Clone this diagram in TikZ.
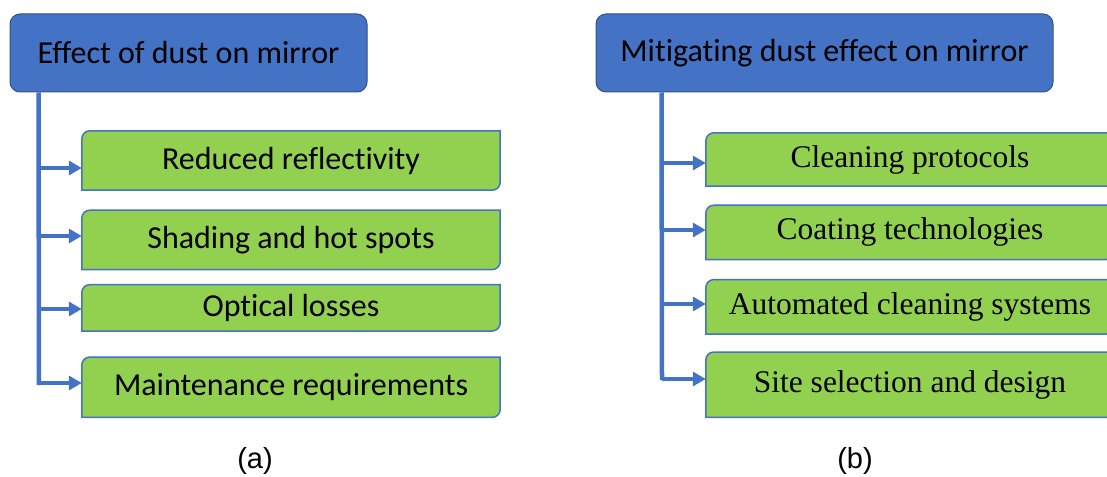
\documentclass[tikz,border=0pt]{standalone}
\usepackage{fontspec}
\setmainfont{Carlito}[Ligatures=NoCommon]
\newfontfamily\leafserif{Liberation Serif}
\newfontfamily\capfont{Liberation Sans}
\usetikzlibrary{positioning,arrows.meta,backgrounds}

\definecolor{headblue}{HTML}{4472C4}
\definecolor{headedge}{HTML}{2F528F}
\definecolor{leafgreen}{HTML}{92D050}

\tikzset{
  headbox/.style={draw=headedge,line width=1pt,fill=headblue,rounded corners=10pt,
    minimum height=78pt,inner sep=0pt,font=\fontsize{32}{36}\selectfont},
  leafbox/.style={inner sep=0pt,font=\fontsize{32}{36}\selectfont},
  leafline/.style={draw=headblue,line width=1.5pt,fill=leafgreen},
  trunk/.style={draw=headblue,line width=4.5pt},
  branch/.style={draw=headblue,line width=4.5pt,-{Triangle[length=13pt,width=14pt]}},
  captext/.style={font=\capfont\fontsize{29}{32}\selectfont}
}

% leaf outline: round top left and bottom right corners only
\newcommand\leafshape[1]{%
  \path[leafline] (#1.south west) -- ([yshift=-8pt]#1.north west)
    arc[start angle=180,end angle=90,radius=8pt] -- (#1.north east)
    -- ([yshift=8pt]#1.south east) arc[start angle=0,end angle=-90,radius=8pt]
    -- cycle;}

\begin{document}
\begin{tikzpicture}[x=1pt,y=-1pt]
\useasboundingbox (0,0) rectangle (1107,476);

% (a)
\node[headbox,minimum width=357pt] (ha) at (188.5,53) {Effect of dust on mirror};
\node[leafbox,minimum width=418pt,minimum height=59pt] (la1) at (291,160.5) {Reduced reflectivity};
\node[leafbox,minimum width=418pt,minimum height=59pt,below=20pt of la1] (la2) {Shading and hot spots};
\node[leafbox,minimum width=418pt,minimum height=46pt,below=15pt of la2] (la3) {Optical losses};
\node[leafbox,minimum width=418pt,minimum height=60pt,below=26pt of la3] (la4) {Maintenance requirements};

% (b)
\node[headbox,minimum width=457pt] (hb) at (824.5,53) {Mitigating dust effect on mirror};
\node[leafbox,minimum width=408pt,minimum height=53pt,font=\leafserif\fontsize{31.5}{36}\selectfont] (rb1) at (910,159.5) {Cleaning protocols};
\node[leafbox,minimum width=408pt,minimum height=54pt,font=\leafserif\fontsize{31.5}{36}\selectfont,below=19pt of rb1] (rb2) {Coating technologies};
\node[leafbox,minimum width=408pt,minimum height=54pt,font=\leafserif\fontsize{31.5}{36}\selectfont,below=20pt of rb2] (rb3) {Automated cleaning systems};
\node[leafbox,minimum width=408pt,minimum height=65pt,font=\leafserif\fontsize{31.5}{36}\selectfont,below=18pt of rb3] (rb4) {Site selection and design};

\begin{scope}[on background layer]
\foreach \n in {la1,la2,la3,la4,rb1,rb2,rb3,rb4}
  \leafshape{\n};
\end{scope}

% tree lines
\coordinate (ta) at ([xshift=29pt]ha.south west);
\coordinate (ta-end) at (39,385);
\coordinate (tb) at ([xshift=66pt]hb.south west);
\coordinate (tb-end) at (662,380);
\draw[trunk] (ta) -- (ta-end);
\draw[trunk] (tb) -- (tb-end);

\foreach \y [count=\i] in {168,236,309,383}
  \coordinate (ja\i) at (39,\y);
\foreach \y [count=\i] in {163,230,304,379}
  \coordinate (jb\i) at (662,\y);
\foreach \i in {1,...,4}{
  \draw[branch] (ja\i) -- (ja\i -| la\i.west);
  \draw[branch] (jb\i) -- (jb\i -| rb\i.west);
}

\node[captext] (capa) at (255,461) {(a)};
\node[captext] (capb) at (855,461) {(b)};
\end{tikzpicture}
\end{document}
